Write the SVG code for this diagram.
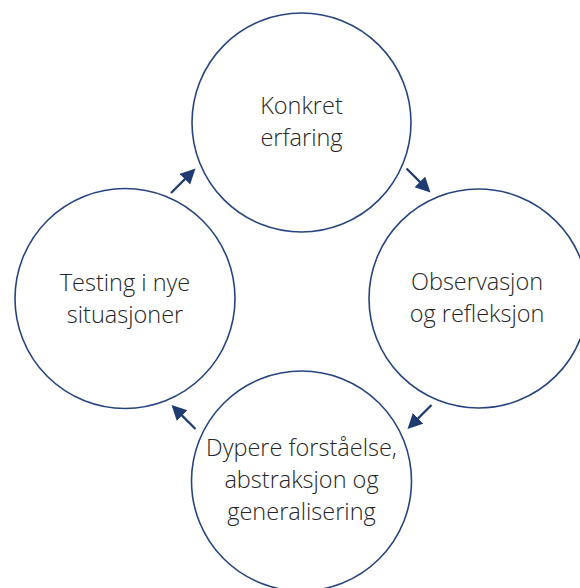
<svg xmlns="http://www.w3.org/2000/svg" width="580" height="588" viewBox="0 0 580 588">
  <style>
    .node circle { fill: #ffffff; stroke: #26457f; stroke-width: 1.6; }
    .node text { font-family: "Open Sans", "Noto Sans", "DejaVu Sans", sans-serif; font-weight: 300; font-size: 23.5px; fill: #262626; text-anchor: middle; }
    .edge { fill: none; stroke: #1f3b70; stroke-width: 2.2; marker-end: url(#head); }
  </style>
  <defs>
    <marker id="head" markerUnits="userSpaceOnUse" markerWidth="16" markerHeight="16" refX="5" refY="7.5" orient="auto">
      <path d="M0,0 L15,7.5 L0,15 z" fill="#1f3b70"/>
    </marker>
  </defs>
  <rect width="580" height="588" fill="#ffffff"/>

  <g id="konkret-erfaring" class="node">
    <circle cx="301.5" cy="122.5" r="109.5"/>
    <text x="301.5" y="114">Konkret</text>
    <text x="301.5" y="146">erfaring</text>
  </g>

  <g id="observasjon-refleksjon" class="node">
    <circle cx="478.5" cy="298.5" r="109.5"/>
    <text x="477" y="290">Observasjon</text>
    <text x="477" y="322">og refleksjon</text>
  </g>

  <g id="dypere-forstaelse" class="node">
    <circle cx="301.5" cy="481" r="110"/>
    <text x="301.5" y="456">Dypere forståelse,</text>
    <text x="301.5" y="488">abstraksjon og</text>
    <text x="301.5" y="520">generalisering</text>
  </g>

  <g id="testing-nye-situasjoner" class="node">
    <circle cx="125" cy="298.5" r="110"/>
    <text x="125" y="291">Testing i nye</text>
    <text x="125" y="323">situasjoner</text>
  </g>

  <g id="connectors">
    <path class="edge" d="M171,193 L188.4,175.6"/>
    <path class="edge" d="M406.5,168.5 L423.4,185.4"/>
    <path class="edge" d="M431.5,405 L414.6,421.9"/>
    <path class="edge" d="M195.5,429 L178.6,412.1"/>
  </g>
</svg>
